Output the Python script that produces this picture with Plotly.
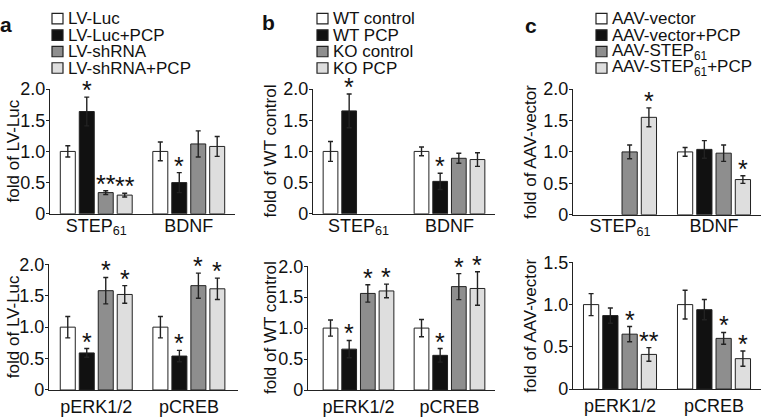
import plotly.graph_objects as go

W, H = 762, 420
FONT = "Liberation Sans, Arial, sans-serif"

cats_top = ["STEP<sub>61</sub>", "BDNF"]
cats_bottom = ["pERK1/2", "pCREB"]
series_a = ["LV-Luc", "LV-Luc+PCP", "LV-shRNA", "LV-shRNA+PCP"]
series_b = ["WT control", "WT PCP", "KO control", "KO PCP"]
series_c = ["AAV-vector", "AAV-vector+PCP", "AAV-STEP<sub>61</sub>", "AAV-STEP<sub>61</sub>+PCP"]
fill_colors = ["#ffffff", "#111111", "#8e8e8e", "#dedede"]
ytitles = ["fold of LV-Luc", "fold of WT control", "fold of AAV-vector"]
panel_letters = ["a", "b", "c"]

# values per series for [category 1, category 2]
a_top_mean = [[1.00, 1.00], [1.64, 0.50], [0.34, 1.12], [0.30, 1.08]]
a_top_err = [[0.09, 0.15], [0.23, 0.16], [0.03, 0.21], [0.03, 0.16]]
a_top_sig = [["", ""], ["*", "*"], ["**", ""], ["**", ""]]
a_bot_mean = [[1.00, 1.00], [0.59, 0.54], [1.58, 1.66], [1.52, 1.61]]
a_bot_err = [[0.17, 0.17], [0.07, 0.09], [0.21, 0.20], [0.14, 0.17]]
a_bot_sig = [["", ""], ["*", "*"], ["*", "*"], ["*", "*"]]
b_top_mean = [[1.00, 1.00], [1.65, 0.52], [None, 0.89], [None, 0.87]]
b_top_err = [[0.16, 0.07], [0.27, 0.13], [None, 0.08], [None, 0.11]]
b_top_sig = [["", ""], ["*", "*"], ["", ""], ["", ""]]
b_bot_mean = [[1.00, 1.00], [0.66, 0.56], [1.56, 1.67], [1.60, 1.64]]
b_bot_err = [[0.13, 0.14], [0.14, 0.11], [0.14, 0.21], [0.11, 0.27]]
b_bot_sig = [["", ""], ["*", "*"], ["*", "*"], ["*", "*"]]
c_top_mean = [[None, 1.00], [None, 1.04], [1.00, 0.98], [1.55, 0.56]]
c_top_err = [[None, 0.07], [None, 0.14], [0.11, 0.13], [0.15, 0.06]]
c_top_sig = [["", ""], ["", ""], ["", ""], ["*", "*"]]
c_bot_mean = [[1.00, 1.00], [0.87, 0.94], [0.65, 0.60], [0.41, 0.36]]
c_bot_err = [[0.13, 0.17], [0.09, 0.12], [0.09, 0.07], [0.08, 0.09]]
c_bot_sig = [["", ""], ["", ""], ["*", "*"], ["**", "*"]]

ytick_vals_20 = [0, 0.5, 1.0, 1.5, 2.0]
ytick_text_20 = ["0", "0.5", "1.0", "1.5", "2.0"]
ytick_vals_15 = [0, 0.5, 1.0, 1.5]
ytick_text_15 = ["0", "0.5", "1.0", "1.5"]


def fx(px):
    return px / W


def fy(py):
    return 1 - py / H


STEP = 0.205
BW = 0.162

panels = [
    dict(series=series_a, cats=cats_top, mean=a_top_mean, err=a_top_err, sig=a_top_sig,
         xd=(50, 235), xr=(-0.5, 1.5), yd=(83, 214), ymax=2.0, tv=ytick_vals_20, tt=ytick_text_20,
         title=ytitles[0], tx=13, legend=True, col=0),
    dict(series=series_a, cats=cats_bottom, mean=a_bot_mean, err=a_bot_err, sig=a_bot_sig,
         xd=(49, 238), xr=(-0.51, 1.53), yd=(267, 399), ymax=2.0, tv=ytick_vals_20, tt=ytick_text_20,
         title=ytitles[0], tx=13, legend=False, col=0),
    dict(series=series_b, cats=cats_top, mean=b_top_mean, err=b_top_err, sig=b_top_sig,
         xd=(313, 495), xr=(-0.5, 1.5), yd=(83, 214), ymax=2.0, tv=ytick_vals_20, tt=ytick_text_20,
         title=ytitles[1], tx=270, legend=True, col=1),
    dict(series=series_b, cats=cats_bottom, mean=b_bot_mean, err=b_bot_err, sig=b_bot_sig,
         xd=(308, 495), xr=(-0.555, 1.5), yd=(269, 399), ymax=2.0, tv=ytick_vals_20, tt=ytick_text_20,
         title=ytitles[1], tx=270, legend=False, col=1),
    dict(series=series_c, cats=cats_top, mean=c_top_mean, err=c_top_err, sig=c_top_sig,
         xd=(573, 761), xr=(-0.5, 1.5), yd=(83, 215), ymax=2.0, tv=ytick_vals_20, tt=ytick_text_20,
         title=ytitles[2], tx=531, legend=True, col=2),
    dict(series=series_c, cats=cats_bottom, mean=c_bot_mean, err=c_bot_err, sig=c_bot_sig,
         xd=(573, 761), xr=(-0.5, 1.5), yd=(265, 398), ymax=1.5, tv=ytick_vals_15, tt=ytick_text_15,
         title=ytitles[2], tx=531, legend=False, col=2),
]

fig = go.Figure()
layout = dict(
    width=W, height=H, margin=dict(l=0, r=0, t=0, b=0),
    paper_bgcolor="white", plot_bgcolor="white",
    font=dict(family=FONT, size=17, color="#111111"),
    showlegend=False, barmode="overlay",
)
annotations = []
shapes = []

for k, p in enumerate(panels):
    n = k + 1
    xa = "x" if n == 1 else f"x{n}"
    ya = "y" if n == 1 else f"y{n}"
    for i, name in enumerate(p["series"]):
        xs = [g + (i - 1.5) * STEP for g in range(len(p["cats"]))]
        ys = p["mean"][i]
        es = [e if e is not None else 0 for e in p["err"][i]]
        fig.add_trace(go.Bar(
            x=xs, y=ys, width=BW, name=name, xaxis=xa, yaxis=ya,
            marker=dict(color=fill_colors[i], line=dict(color="#222222", width=1)),
            error_y=dict(type="data", array=es, visible=True, color="#222222",
                         thickness=1.4, width=2.5),
        ))
        for j, s in enumerate(p["sig"][i]):
            if s and ys[j] is not None:
                annotations.append(dict(
                    text=s, x=xs[j], y=ys[j] + es[j], xref=xa, yref=ya,
                    showarrow=False, xanchor="center", yanchor="bottom", yshift=-9,
                    font=dict(size=25, color="#111111"),
                ))
    xkey = "xaxis" if n == 1 else f"xaxis{n}"
    ykey = "yaxis" if n == 1 else f"yaxis{n}"
    layout[xkey] = dict(
        domain=[fx(p["xd"][0]), fx(p["xd"][1])], range=list(p["xr"]), anchor=ya,
        tickvals=list(range(len(p["cats"]))), ticktext=p["cats"],
        showline=True, linecolor="#222222", linewidth=1.2, ticks="",
        ticklabelstandoff=-5 if p["cats"] is cats_top else 0,
        showgrid=False, zeroline=False, tickfont=dict(size=18),
    )
    layout[ykey] = dict(
        domain=[fy(p["yd"][1]), fy(p["yd"][0])], range=[0, p["ymax"]], anchor=xa,
        tickvals=p["tv"], ticktext=p["tt"],
        showline=True, linecolor="#222222", linewidth=1.2, ticks="outside", ticklen=3,
        ticklabelstandoff=-3,
        tickcolor="#222222", showgrid=False, zeroline=False, tickfont=dict(size=18),
    )
    annotations.append(dict(
        text=p["title"], textangle=-90, x=fx(p["tx"]), y=fy((p["yd"][0] + p["yd"][1]) / 2),
        xref="paper", yref="paper", showarrow=False, xanchor="center", yanchor="middle",
        font=dict(size=17, color="#111111"),
    ))
    if p["legend"]:
        lx = [52, 317, 596][p["col"]]
        for i, name in enumerate(p["series"]):
            cy = 9 + i * 17.3
            shapes.append(dict(
                type="rect", xref="paper", yref="paper",
                x0=fx(lx), x1=fx(lx + 11), y0=fy(cy + 5.5), y1=fy(cy - 5.5),
                fillcolor=fill_colors[i], line=dict(color="#222222", width=1.2),
            ))
            annotations.append(dict(
                text=name, x=fx(lx + 14), y=fy(cy), xref="paper", yref="paper",
                showarrow=False, xanchor="left", yanchor="middle",
                font=dict(size=17, color="#111111"),
            ))

for letter, (px_, py_) in zip(panel_letters, [(6, 15), (268, 13), (531, 16)]):
    annotations.append(dict(
        text=f"<b>{letter}</b>", x=fx(px_), y=fy(py_), xref="paper", yref="paper",
        showarrow=False, xanchor="center", yanchor="middle",
        font=dict(size=21, color="#111111"),
    ))

layout["annotations"] = annotations
layout["shapes"] = shapes
fig.update_layout(**layout)
fig.write_html("out.html", config={"displayModeBar": False},
               post_script="document.body.style.margin='0px';")
